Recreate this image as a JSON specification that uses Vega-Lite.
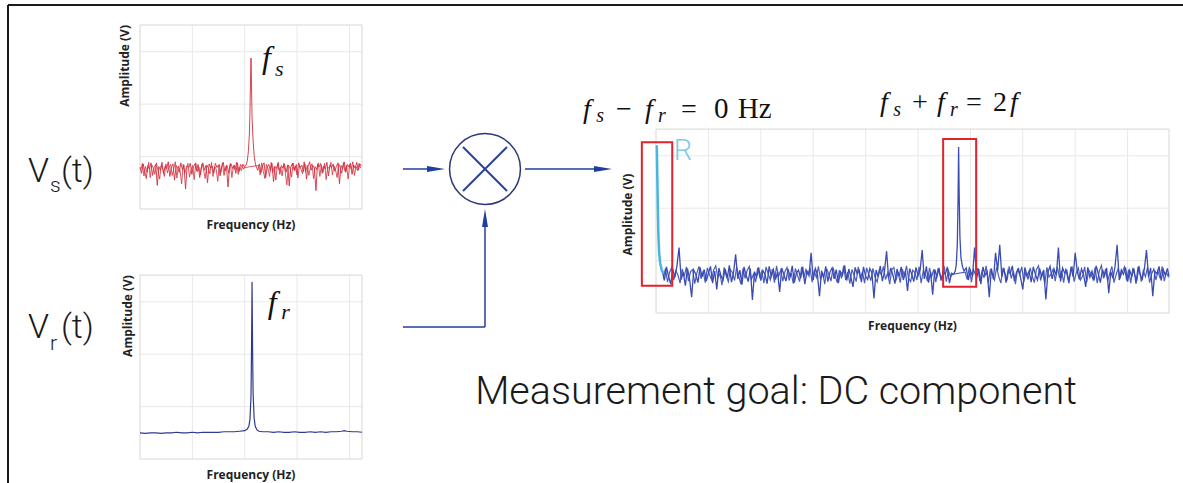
{
"$schema": "https://vega.github.io/schema/vega-lite/v6.json",
"padding": {"left": 7, "top": 4, "right": 0, "bottom": 0},
"background": "white",
"bounds": "flush",
"spacing": 0,
"config": {"view": {"stroke": null}},
"hconcat": [
  {
    "width": 132, "height": 478, "data": {"values": [{}]},
    "encoding": {
      "x": {"type": "quantitative", "scale": {"domain": [0, 13.2], "nice": false, "zero": false}, "axis": null},
      "y": {"type": "quantitative", "scale": {"domain": [0, 47.8], "nice": false, "zero": false, "reverse": true}, "axis": null}
    },
    "layer": [
      {"mark": {"type": "rule", "color": "#1b1b1b", "strokeWidth": 2},
       "encoding": {"x": {"datum": 0, "type": "quantitative"}, "x2": {"datum": 13.2}, "y": {"datum": 0, "type": "quantitative"}}},
      {"mark": {"type": "rule", "color": "#1b1b1b", "strokeWidth": 2},
       "encoding": {"x": {"datum": 0, "type": "quantitative"}, "y": {"datum": 0, "type": "quantitative"}, "y2": {"datum": 47.8}}},
      {"mark": {"type": "text", "text": "V", "font": "Roboto", "fontWeight": 300, "fontSize": 34, "align": "left", "baseline": "alphabetic", "color": "#1a1a1a"},
       "encoding": {"x": {"datum": 2.0, "type": "quantitative"}, "y": {"datum": 17.7, "type": "quantitative"}}},
      {"mark": {"type": "text", "text": "s", "font": "Roboto", "fontWeight": 300, "fontSize": 21, "align": "left", "baseline": "alphabetic", "color": "#1a1a1a"},
       "encoding": {"x": {"datum": 4.2, "type": "quantitative"}, "y": {"datum": 18.7, "type": "quantitative"}}},
      {"mark": {"type": "text", "text": "(t)", "font": "Roboto", "fontWeight": 300, "fontSize": 34, "align": "left", "baseline": "alphabetic", "color": "#1a1a1a"},
       "encoding": {"x": {"datum": 5.3, "type": "quantitative"}, "y": {"datum": 17.7, "type": "quantitative"}}},
      {"mark": {"type": "text", "text": "V", "font": "Roboto", "fontWeight": 300, "fontSize": 34, "align": "left", "baseline": "alphabetic", "color": "#1a1a1a"},
       "encoding": {"x": {"datum": 2.0, "type": "quantitative"}, "y": {"datum": 33.3, "type": "quantitative"}}},
      {"mark": {"type": "text", "text": "r", "font": "Roboto", "fontWeight": 300, "fontSize": 21, "align": "left", "baseline": "alphabetic", "color": "#1a1a1a"},
       "encoding": {"x": {"datum": 4.2, "type": "quantitative"}, "y": {"datum": 34.5, "type": "quantitative"}}},
      {"mark": {"type": "text", "text": "(t)", "font": "Roboto", "fontWeight": 300, "fontSize": 34, "align": "left", "baseline": "alphabetic", "color": "#1a1a1a"},
       "encoding": {"x": {"datum": 5.3, "type": "quantitative"}, "y": {"datum": 33.3, "type": "quantitative"}}}
    ]
  },
  {
    "width": 222, "height": 478,
    "resolve": {"scale": {"y": "independent"}},
    "layer": [
      {
        "encoding": {
          "x": {"type": "quantitative", "scale": {"domain": [0, 4.24], "nice": false, "zero": false}, "axis": null},
          "y": {"type": "quantitative", "scale": {"domain": [-5.229, 3.892], "nice": false, "zero": false}, "axis": null}
        },
        "layer": [
          {"data": {"values": [{"t": 1}, {"t": 2}, {"t": 3}, {"t": 4}]},
           "mark": {"type": "rule", "color": "#e8e8e8", "strokeWidth": 1},
           "encoding": {"x": {"field": "t", "type": "quantitative"}, "y": {"datum": 0, "type": "quantitative"}, "y2": {"datum": 3.51}}},
          {"data": {"values": [{"t": 1}, {"t": 2}, {"t": 3}]},
           "mark": {"type": "rule", "color": "#e8e8e8", "strokeWidth": 1},
           "encoding": {"y": {"field": "t", "type": "quantitative"}, "x": {"datum": 0, "type": "quantitative"}, "x2": {"datum": 4.24}}},
          {"data": {"values": [{}]},
           "mark": {"type": "rect", "filled": false, "stroke": "#d6d6d6", "strokeWidth": 1},
           "encoding": {"x": {"datum": 0, "type": "quantitative"}, "x2": {"datum": 4.24}, "y": {"datum": 0, "type": "quantitative"}, "y2": {"datum": 3.51}}},
          {"data": {"values": [
            {"f":0.00,"a":0.80},{"f":0.03,"a":0.68},{"f":0.06,"a":0.86},{"f":0.09,"a":0.72},{"f":0.12,"a":0.58},{"f":0.15,"a":0.83},{"f":0.18,"a":0.76},{"f":0.21,"a":0.88},{"f":0.24,"a":0.64},{"f":0.27,"a":0.79},
            {"f":0.30,"a":0.85},{"f":0.33,"a":0.45},{"f":0.36,"a":0.81},{"f":0.39,"a":0.74},{"f":0.42,"a":0.89},{"f":0.45,"a":0.67},{"f":0.48,"a":0.82},{"f":0.51,"a":0.77},{"f":0.54,"a":0.90},{"f":0.57,"a":0.62},
            {"f":0.60,"a":0.80},{"f":0.63,"a":0.86},{"f":0.66,"a":0.55},{"f":0.69,"a":0.83},{"f":0.72,"a":0.78},{"f":0.75,"a":0.70},{"f":0.78,"a":0.88},{"f":0.81,"a":0.75},{"f":0.84,"a":0.84},{"f":0.87,"a":0.38},
            {"f":0.90,"a":0.82},{"f":0.93,"a":0.79},{"f":0.96,"a":0.87},{"f":0.99,"a":0.66},{"f":1.02,"a":0.81},{"f":1.05,"a":0.86},{"f":1.08,"a":0.73},{"f":1.11,"a":0.85},{"f":1.14,"a":0.60},{"f":1.17,"a":0.80},
            {"f":1.20,"a":0.88},{"f":1.23,"a":0.74},{"f":1.26,"a":0.83},{"f":1.29,"a":0.50},{"f":1.32,"a":0.86},{"f":1.35,"a":0.78},{"f":1.38,"a":0.82},{"f":1.41,"a":0.69},{"f":1.44,"a":0.87},{"f":1.47,"a":0.79},
            {"f":1.50,"a":0.84},{"f":1.53,"a":0.63},{"f":1.56,"a":0.81},{"f":1.59,"a":0.89},{"f":1.62,"a":0.72},{"f":1.65,"a":0.83},{"f":1.68,"a":0.42},{"f":1.71,"a":0.80},{"f":1.74,"a":0.86},{"f":1.77,"a":0.77},
            {"f":1.80,"a":0.84},{"f":1.83,"a":0.68},{"f":1.86,"a":0.88},{"f":1.89,"a":0.71},{"f":1.92,"a":0.85},{"f":1.95,"a":0.80},{"f":1.98,"a":0.76},{"f":2.01,"a":0.83},
            {"f":2.03,"a":0.84},{"f":2.05,"a":0.92},{"f":2.07,"a":1.10},{"f":2.09,"a":1.45},{"f":2.10,"a":1.85},{"f":2.11,"a":2.40},{"f":2.12,"a":2.88},{"f":2.13,"a":2.35},{"f":2.14,"a":1.75},{"f":2.16,"a":1.30},{"f":2.18,"a":1.02},{"f":2.20,"a":0.88},{"f":2.22,"a":0.80},
            {"f":2.25,"a":0.74},{"f":2.28,"a":0.86},{"f":2.31,"a":0.69},{"f":2.34,"a":0.82},{"f":2.37,"a":0.88},{"f":2.40,"a":0.60},{"f":2.43,"a":0.79},{"f":2.46,"a":0.85},{"f":2.49,"a":0.73},{"f":2.52,"a":0.87},
            {"f":2.55,"a":0.52},{"f":2.58,"a":0.81},{"f":2.61,"a":0.77},{"f":2.64,"a":0.89},{"f":2.67,"a":0.66},{"f":2.70,"a":0.83},{"f":2.73,"a":0.78},{"f":2.76,"a":0.86},{"f":2.79,"a":0.70},{"f":2.82,"a":0.84},
            {"f":2.85,"a":0.44},{"f":2.88,"a":0.80},{"f":2.91,"a":0.87},{"f":2.94,"a":0.75},{"f":2.97,"a":0.82},{"f":3.00,"a":0.65},{"f":3.03,"a":0.88},{"f":3.06,"a":0.79},{"f":3.09,"a":0.84},{"f":3.12,"a":0.71},
            {"f":3.15,"a":0.86},{"f":3.18,"a":0.57},{"f":3.21,"a":0.81},{"f":3.24,"a":0.90},{"f":3.27,"a":0.74},{"f":3.30,"a":0.83},{"f":3.33,"a":0.78},{"f":3.36,"a":0.35},{"f":3.39,"a":0.85},{"f":3.42,"a":0.80},
            {"f":3.45,"a":0.87},{"f":3.48,"a":0.68},{"f":3.51,"a":0.82},{"f":3.54,"a":0.76},{"f":3.57,"a":0.89},{"f":3.60,"a":0.63},{"f":3.63,"a":0.84},{"f":3.66,"a":0.79},{"f":3.69,"a":0.86},{"f":3.72,"a":0.72},
            {"f":3.75,"a":0.81},{"f":3.78,"a":0.88},{"f":3.81,"a":0.48},{"f":3.84,"a":0.83},{"f":3.87,"a":0.77},{"f":3.90,"a":0.90},{"f":3.93,"a":0.70},{"f":3.96,"a":0.85},{"f":3.99,"a":0.80},{"f":4.02,"a":0.87},
            {"f":4.05,"a":0.66},{"f":4.08,"a":0.84},{"f":4.11,"a":0.78},{"f":4.14,"a":0.89},{"f":4.17,"a":0.74},{"f":4.20,"a":0.86},{"f":4.23,"a":0.82}
          ]},
           "mark": {"type": "line", "color": "#d0303e", "strokeWidth": 1, "opacity": 0.9},
           "encoding": {"x": {"field": "f", "type": "quantitative"}, "y": {"field": "a", "type": "quantitative"}}},
          {"data": {"values": [
            {"f":0.015,"a":0.74},{"f":0.045,"a":0.87},{"f":0.075,"a":0.63},{"f":0.105,"a":0.81},{"f":0.135,"a":0.70},{"f":0.165,"a":0.89},{"f":0.195,"a":0.60},{"f":0.225,"a":0.84},{"f":0.255,"a":0.78},{"f":0.285,"a":0.66},
            {"f":0.315,"a":0.88},{"f":0.345,"a":0.72},{"f":0.375,"a":0.57},{"f":0.405,"a":0.83},{"f":0.435,"a":0.76},{"f":0.465,"a":0.62},{"f":0.495,"a":0.86},{"f":0.525,"a":0.69},{"f":0.555,"a":0.80},{"f":0.585,"a":0.85},
            {"f":0.615,"a":0.64},{"f":0.645,"a":0.77},{"f":0.675,"a":0.90},{"f":0.705,"a":0.59},{"f":0.735,"a":0.82},{"f":0.765,"a":0.73},{"f":0.795,"a":0.48},{"f":0.825,"a":0.85},{"f":0.855,"a":0.68},{"f":0.885,"a":0.79},
            {"f":0.915,"a":0.87},{"f":0.945,"a":0.61},{"f":0.975,"a":0.75},{"f":1.005,"a":0.83},{"f":1.035,"a":0.56},{"f":1.065,"a":0.88},{"f":1.095,"a":0.71},{"f":1.125,"a":0.80},{"f":1.155,"a":0.65},{"f":1.185,"a":0.86},
            {"f":1.215,"a":0.74},{"f":1.245,"a":0.58},{"f":1.275,"a":0.84},{"f":1.305,"a":0.78},{"f":1.335,"a":0.67},{"f":1.365,"a":0.89},{"f":1.395,"a":0.62},{"f":1.425,"a":0.81},{"f":1.455,"a":0.76},{"f":1.485,"a":0.53},
            {"f":1.515,"a":0.85},{"f":1.545,"a":0.70},{"f":1.575,"a":0.88},{"f":1.605,"a":0.64},{"f":1.635,"a":0.79},{"f":1.665,"a":0.83},{"f":1.695,"a":0.68},{"f":1.725,"a":0.87},{"f":1.755,"a":0.60},{"f":1.785,"a":0.82},
            {"f":1.815,"a":0.75},{"f":1.845,"a":0.89},{"f":1.875,"a":0.66},{"f":1.905,"a":0.80},{"f":1.935,"a":0.73},{"f":1.965,"a":0.86},{"f":1.995,"a":0.79},
            {"f":2.265,"a":0.83},{"f":2.295,"a":0.65},{"f":2.325,"a":0.88},{"f":2.355,"a":0.72},{"f":2.385,"a":0.58},{"f":2.415,"a":0.85},{"f":2.445,"a":0.77},{"f":2.475,"a":0.62},{"f":2.505,"a":0.89},{"f":2.535,"a":0.70},
            {"f":2.565,"a":0.81},{"f":2.595,"a":0.55},{"f":2.625,"a":0.86},{"f":2.655,"a":0.74},{"f":2.685,"a":0.80},{"f":2.715,"a":0.63},{"f":2.745,"a":0.87},{"f":2.775,"a":0.69},{"f":2.805,"a":0.46},{"f":2.835,"a":0.84},
            {"f":2.865,"a":0.78},{"f":2.895,"a":0.61},{"f":2.925,"a":0.88},{"f":2.955,"a":0.73},{"f":2.985,"a":0.85},{"f":3.015,"a":0.59},{"f":3.045,"a":0.82},{"f":3.075,"a":0.76},{"f":3.105,"a":0.67},{"f":3.135,"a":0.90},
            {"f":3.165,"a":0.71},{"f":3.195,"a":0.83},{"f":3.225,"a":0.64},{"f":3.255,"a":0.79},{"f":3.285,"a":0.86},{"f":3.315,"a":0.58},{"f":3.345,"a":0.81},{"f":3.375,"a":0.75},{"f":3.405,"a":0.88},{"f":3.435,"a":0.62},
            {"f":3.465,"a":0.84},{"f":3.495,"a":0.70},{"f":3.525,"a":0.87},{"f":3.555,"a":0.56},{"f":3.585,"a":0.80},{"f":3.615,"a":0.77},{"f":3.645,"a":0.89},{"f":3.675,"a":0.65},{"f":3.705,"a":0.82},{"f":3.735,"a":0.74},
            {"f":3.765,"a":0.60},{"f":3.795,"a":0.86},{"f":3.825,"a":0.79},{"f":3.855,"a":0.68},{"f":3.885,"a":0.88},{"f":3.915,"a":0.72},{"f":3.945,"a":0.83},{"f":3.975,"a":0.57},{"f":4.005,"a":0.85},{"f":4.035,"a":0.76},
            {"f":4.065,"a":0.90},{"f":4.095,"a":0.64},{"f":4.125,"a":0.81},{"f":4.155,"a":0.73},{"f":4.185,"a":0.87},{"f":4.215,"a":0.78}
          ]},
           "mark": {"type": "line", "color": "#d0303e", "strokeWidth": 1, "opacity": 0.8},
           "encoding": {"x": {"field": "f", "type": "quantitative"}, "y": {"field": "a", "type": "quantitative"}}},
          {"data": {"values": [{}]},
           "mark": {"type": "text", "text": "f", "font": "Liberation Serif", "fontStyle": "italic", "fontSize": 32, "align": "left", "baseline": "alphabetic", "color": "#111111"},
           "encoding": {"x": {"datum": 2.33, "type": "quantitative"}, "y": {"datum": 2.69, "type": "quantitative"}}},
          {"data": {"values": [{}]},
           "mark": {"type": "text", "text": "s", "font": "Liberation Serif", "fontStyle": "italic", "fontSize": 22, "align": "left", "baseline": "alphabetic", "color": "#111111"},
           "encoding": {"x": {"datum": 2.58, "type": "quantitative"}, "y": {"datum": 2.54, "type": "quantitative"}}},
          {"data": {"values": [{}]},
           "mark": {"type": "text", "text": "Amplitude (V)", "font": "Open Sans", "fontWeight": "bold", "fontSize": 12, "angle": 270, "align": "right", "baseline": "middle", "color": "#222222"},
           "encoding": {"x": {"datum": -0.286, "type": "quantitative"}, "y": {"datum": 3.51, "type": "quantitative"}}},
          {"data": {"values": [{}]},
           "mark": {"type": "text", "text": "Frequency (Hz)", "font": "Open Sans", "fontWeight": "bold", "fontSize": 12, "align": "center", "baseline": "middle", "color": "#222222"},
           "encoding": {"x": {"datum": 2.12, "type": "quantitative"}, "y": {"datum": -0.305, "type": "quantitative"}}},
          {"data": {"values": [{}]},
           "mark": {"type": "rule", "color": "#1b1b1b", "strokeWidth": 2},
           "encoding": {"x": {"datum": 0, "type": "quantitative"}, "x2": {"datum": 4.24}, "y": {"datum": 3.892, "type": "quantitative"}}}
        ]
      },
      {
        "encoding": {
          "x": {"type": "quantitative", "scale": {"domain": [0, 4.24], "nice": false, "zero": false}, "axis": null},
          "y": {"type": "quantitative", "scale": {"domain": [-0.458, 8.664], "nice": false, "zero": false}, "axis": null}
        },
        "layer": [
          {"data": {"values": [{"t": 1}, {"t": 2}, {"t": 3}, {"t": 4}]},
           "mark": {"type": "rule", "color": "#e8e8e8", "strokeWidth": 1},
           "encoding": {"x": {"field": "t", "type": "quantitative"}, "y": {"datum": 0, "type": "quantitative"}, "y2": {"datum": 3.51}}},
          {"data": {"values": [{"t": 1}, {"t": 2}, {"t": 3}]},
           "mark": {"type": "rule", "color": "#e8e8e8", "strokeWidth": 1},
           "encoding": {"y": {"field": "t", "type": "quantitative"}, "x": {"datum": 0, "type": "quantitative"}, "x2": {"datum": 4.24}}},
          {"data": {"values": [{}]},
           "mark": {"type": "rect", "filled": false, "stroke": "#d6d6d6", "strokeWidth": 1},
           "encoding": {"x": {"datum": 0, "type": "quantitative"}, "x2": {"datum": 4.24}, "y": {"datum": 0, "type": "quantitative"}, "y2": {"datum": 3.51}}},
          {"data": {"values": [
            {"f":0.00,"a":0.50},{"f":0.10,"a":0.49},{"f":0.20,"a":0.50},{"f":0.30,"a":0.50},{"f":0.40,"a":0.49},{"f":0.50,"a":0.50},{"f":0.60,"a":0.50},{"f":0.70,"a":0.51},{"f":0.80,"a":0.50},{"f":0.90,"a":0.50},
            {"f":1.00,"a":0.51},{"f":1.10,"a":0.50},{"f":1.20,"a":0.51},{"f":1.30,"a":0.51},{"f":1.40,"a":0.51},{"f":1.50,"a":0.51},{"f":1.60,"a":0.52},{"f":1.70,"a":0.52},{"f":1.80,"a":0.52},{"f":1.90,"a":0.53},
            {"f":2.00,"a":0.54},{"f":2.05,"a":0.57},{"f":2.08,"a":0.63},{"f":2.10,"a":0.75},{"f":2.12,"a":1.20},{"f":2.13,"a":2.10},{"f":2.14,"a":3.38},{"f":2.15,"a":2.10},{"f":2.16,"a":1.25},{"f":2.18,"a":0.78},
            {"f":2.20,"a":0.63},{"f":2.23,"a":0.56},{"f":2.27,"a":0.53},{"f":2.35,"a":0.52},{"f":2.45,"a":0.52},{"f":2.55,"a":0.51},{"f":2.65,"a":0.52},{"f":2.75,"a":0.51},{"f":2.85,"a":0.51},{"f":2.95,"a":0.52},
            {"f":3.05,"a":0.51},{"f":3.15,"a":0.51},{"f":3.25,"a":0.52},{"f":3.35,"a":0.51},{"f":3.45,"a":0.52},{"f":3.55,"a":0.51},{"f":3.65,"a":0.52},{"f":3.75,"a":0.52},{"f":3.85,"a":0.53},{"f":3.90,"a":0.54},
            {"f":3.95,"a":0.53},{"f":4.05,"a":0.52},{"f":4.15,"a":0.52},{"f":4.24,"a":0.51}
          ]},
           "mark": {"type": "line", "color": "#2f3b8f", "strokeWidth": 1.2},
           "encoding": {"x": {"field": "f", "type": "quantitative"}, "y": {"field": "a", "type": "quantitative"}}},
          {"data": {"values": [{}]},
           "mark": {"type": "text", "text": "f", "font": "Liberation Serif", "fontStyle": "italic", "fontSize": 32, "align": "left", "baseline": "alphabetic", "color": "#111111"},
           "encoding": {"x": {"datum": 2.44, "type": "quantitative"}, "y": {"datum": 2.79, "type": "quantitative"}}},
          {"data": {"values": [{}]},
           "mark": {"type": "text", "text": "r", "font": "Liberation Serif", "fontStyle": "italic", "fontSize": 22, "align": "left", "baseline": "alphabetic", "color": "#111111"},
           "encoding": {"x": {"datum": 2.70, "type": "quantitative"}, "y": {"datum": 2.68, "type": "quantitative"}}},
          {"data": {"values": [{}]},
           "mark": {"type": "text", "text": "Amplitude (V)", "font": "Open Sans", "fontWeight": "bold", "fontSize": 12, "angle": 270, "align": "right", "baseline": "middle", "color": "#222222"},
           "encoding": {"x": {"datum": -0.229, "type": "quantitative"}, "y": {"datum": 3.51, "type": "quantitative"}}},
          {"data": {"values": [{}]},
           "mark": {"type": "text", "text": "Frequency (Hz)", "font": "Open Sans", "fontWeight": "bold", "fontSize": 12, "align": "center", "baseline": "middle", "color": "#222222"},
           "encoding": {"x": {"datum": 2.12, "type": "quantitative"}, "y": {"datum": -0.305, "type": "quantitative"}}}
        ]
      }
    ]
  },
  {
    "width": 294, "height": 478, "data": {"values": [{}]},
    "encoding": {
      "x": {"type": "quantitative", "scale": {"domain": [0, 29.4], "nice": false, "zero": false}, "axis": null},
      "y": {"type": "quantitative", "scale": {"domain": [0, 47.8], "nice": false, "zero": false, "reverse": true}, "axis": null}
    },
    "layer": [
      {"mark": {"type": "rule", "color": "#1b1b1b", "strokeWidth": 2},
       "encoding": {"x": {"datum": 0, "type": "quantitative"}, "x2": {"datum": 29.4}, "y": {"datum": 0, "type": "quantitative"}}},
      {"mark": {"type": "rule", "color": "#203f9a", "strokeWidth": 1.5},
       "encoding": {"x": {"datum": 4.1, "type": "quantitative"}, "x2": {"datum": 7.0}, "y": {"datum": 16.4, "type": "quantitative"}}},
      {"mark": {"type": "point", "shape": "M-1,-0.33L1,0L-1,0.33Z", "size": 324, "filled": true, "color": "#203f9a", "opacity": 1, "strokeWidth": 0},
       "encoding": {"x": {"datum": 7.4, "type": "quantitative"}, "y": {"datum": 16.4, "type": "quantitative"}}},
      {"mark": {"type": "point", "shape": "circle", "size": 5027, "filled": false, "stroke": "#2c3873", "strokeWidth": 1.5, "opacity": 1},
       "encoding": {"x": {"datum": 12.3, "type": "quantitative"}, "y": {"datum": 16.4, "type": "quantitative"}}},
      {"mark": {"type": "rule", "color": "#2a3f96", "strokeWidth": 2},
       "encoding": {"x": {"datum": 10.1, "type": "quantitative"}, "x2": {"datum": 14.5}, "y": {"datum": 14.2, "type": "quantitative"}, "y2": {"datum": 18.6}}},
      {"mark": {"type": "rule", "color": "#2a3f96", "strokeWidth": 2},
       "encoding": {"x": {"datum": 10.1, "type": "quantitative"}, "x2": {"datum": 14.5}, "y": {"datum": 18.6, "type": "quantitative"}, "y2": {"datum": 14.2}}},
      {"mark": {"type": "rule", "color": "#203f9a", "strokeWidth": 1.5},
       "encoding": {"x": {"datum": 16.3, "type": "quantitative"}, "x2": {"datum": 24.0}, "y": {"datum": 16.4, "type": "quantitative"}}},
      {"mark": {"type": "point", "shape": "M-1,-0.33L1,0L-1,0.33Z", "size": 324, "filled": true, "color": "#203f9a", "opacity": 1, "strokeWidth": 0},
       "encoding": {"x": {"datum": 24.1, "type": "quantitative"}, "y": {"datum": 16.4, "type": "quantitative"}}},
      {"mark": {"type": "rule", "color": "#203f9a", "strokeWidth": 1.5},
       "encoding": {"x": {"datum": 4.1, "type": "quantitative"}, "x2": {"datum": 12.3}, "y": {"datum": 32.2, "type": "quantitative"}}},
      {"mark": {"type": "rule", "color": "#203f9a", "strokeWidth": 1.5},
       "encoding": {"x": {"datum": 12.3, "type": "quantitative"}, "y": {"datum": 32.2, "type": "quantitative"}, "y2": {"datum": 21.8}}},
      {"mark": {"type": "point", "shape": "M-0.33,1L0,-1L0.33,1Z", "size": 324, "filled": true, "color": "#203f9a", "opacity": 1, "strokeWidth": 0},
       "encoding": {"x": {"datum": 12.3, "type": "quantitative"}, "y": {"datum": 21.3, "type": "quantitative"}}},
      {"mark": {"type": "text", "text": "Measurement goal: DC component", "font": "Roboto", "fontWeight": 300, "fontSize": 39.5, "align": "center", "baseline": "alphabetic", "color": "#1a1a1a"},
       "encoding": {"x": {"datum": 41.4, "type": "quantitative"}, "y": {"datum": 39.9, "type": "quantitative"}}}
    ]
  },
  {
    "width": 513, "height": 478,
    "encoding": {
      "x": {"type": "quantitative", "scale": {"domain": [0, 9.79], "nice": false, "zero": false}, "axis": null},
      "y": {"type": "quantitative", "scale": {"domain": [-3.244, 5.878], "nice": false, "zero": false}, "axis": null}
    },
    "layer": [
      {"data": {"values": [{"t": 1}, {"t": 2}, {"t": 3}, {"t": 4}, {"t": 5}, {"t": 6}, {"t": 7}, {"t": 8}, {"t": 9}]},
       "mark": {"type": "rule", "color": "#e8e8e8", "strokeWidth": 1},
       "encoding": {"x": {"field": "t", "type": "quantitative"}, "y": {"datum": 0, "type": "quantitative"}, "y2": {"datum": 3.51}}},
      {"data": {"values": [{"t": 1}, {"t": 2}, {"t": 3}]},
       "mark": {"type": "rule", "color": "#e8e8e8", "strokeWidth": 1},
       "encoding": {"y": {"field": "t", "type": "quantitative"}, "x": {"datum": 0, "type": "quantitative"}, "x2": {"datum": 9.79}}},
      {"data": {"values": [{}]},
       "mark": {"type": "rect", "filled": false, "stroke": "#d6d6d6", "strokeWidth": 1},
       "encoding": {"x": {"datum": 0, "type": "quantitative"}, "x2": {"datum": 9.79}, "y": {"datum": 0, "type": "quantitative"}, "y2": {"datum": 3.51}}},
      {"data": {"values": [
        {"f":0.12,"a":0.80},{"f":0.16,"a":0.62},{"f":0.20,"a":0.88},{"f":0.24,"a":0.70},{"f":0.28,"a":0.55},{"f":0.32,"a":0.84},{"f":0.36,"a":0.68},{"f":0.40,"a":0.90},{"f":0.44,"a":1.25},{"f":0.48,"a":0.64},
        {"f":0.52,"a":0.78},{"f":0.56,"a":0.52},{"f":0.60,"a":0.85},{"f":0.64,"a":0.66},{"f":0.68,"a":0.30},{"f":0.72,"a":0.82},{"f":0.76,"a":0.74},{"f":0.80,"a":0.58},{"f":0.84,"a":0.87},{"f":0.88,"a":0.69},
        {"f":0.92,"a":0.83},{"f":0.96,"a":0.61},{"f":1.00,"a":0.76},{"f":1.04,"a":0.89},{"f":1.08,"a":0.57},{"f":1.12,"a":0.80},{"f":1.16,"a":0.45},{"f":1.20,"a":0.86},{"f":1.24,"a":0.71},{"f":1.28,"a":0.63},
        {"f":1.32,"a":0.84},{"f":1.36,"a":0.67},{"f":1.40,"a":0.91},{"f":1.44,"a":0.59},{"f":1.48,"a":0.77},{"f":1.52,"a":1.12},{"f":1.56,"a":0.65},{"f":1.60,"a":0.82},{"f":1.64,"a":0.54},{"f":1.68,"a":0.88},
        {"f":1.72,"a":0.72},{"f":1.76,"a":0.60},{"f":1.80,"a":0.85},{"f":1.84,"a":0.25},{"f":1.88,"a":0.79},{"f":1.92,"a":0.68},{"f":1.96,"a":0.87},{"f":2.00,"a":0.62},{"f":2.04,"a":0.81},{"f":2.08,"a":0.74},
        {"f":2.12,"a":0.56},{"f":2.16,"a":0.89},{"f":2.20,"a":0.70},{"f":2.24,"a":0.83},{"f":2.28,"a":0.64},{"f":2.32,"a":0.78},{"f":2.36,"a":0.40},{"f":2.40,"a":0.86},{"f":2.44,"a":0.73},{"f":2.48,"a":0.61},
        {"f":2.52,"a":0.84},{"f":2.56,"a":0.69},{"f":2.60,"a":0.90},{"f":2.64,"a":0.58},{"f":2.68,"a":0.76},{"f":2.72,"a":0.82},{"f":2.76,"a":0.66},{"f":2.80,"a":0.88},{"f":2.84,"a":0.55},{"f":2.88,"a":0.80},
        {"f":2.92,"a":0.71},{"f":2.96,"a":1.15},{"f":3.00,"a":0.63},{"f":3.04,"a":0.85},{"f":3.08,"a":0.74},{"f":3.12,"a":0.32},{"f":3.16,"a":0.81},{"f":3.20,"a":0.67},{"f":3.24,"a":0.89},{"f":3.28,"a":0.60},
        {"f":3.32,"a":0.78},{"f":3.36,"a":0.86},{"f":3.40,"a":0.65},{"f":3.44,"a":0.83},{"f":3.48,"a":0.57},{"f":3.52,"a":0.79},{"f":3.56,"a":0.72},{"f":3.60,"a":0.91},{"f":3.64,"a":0.62},{"f":3.68,"a":0.84},
        {"f":3.72,"a":0.68},{"f":3.76,"a":0.50},{"f":3.80,"a":0.87},{"f":3.84,"a":0.75},{"f":3.88,"a":0.81},{"f":3.92,"a":0.59},{"f":3.96,"a":0.88},{"f":4.00,"a":0.70},{"f":4.04,"a":0.64},{"f":4.08,"a":0.85},
        {"f":4.12,"a":0.77},{"f":4.16,"a":0.28},{"f":4.20,"a":0.82},{"f":4.24,"a":0.69},{"f":4.28,"a":0.90},{"f":4.32,"a":0.61},{"f":4.36,"a":0.79},{"f":4.40,"a":1.18},{"f":4.44,"a":0.66},{"f":4.48,"a":0.86},
        {"f":4.52,"a":0.73},{"f":4.56,"a":0.56},{"f":4.60,"a":0.84},{"f":4.64,"a":0.70},{"f":4.68,"a":0.88},{"f":4.72,"a":0.63},{"f":4.76,"a":0.80},{"f":4.80,"a":0.42},{"f":4.84,"a":0.85},{"f":4.88,"a":0.74},
        {"f":4.92,"a":0.60},{"f":4.96,"a":0.87},{"f":5.00,"a":0.71},{"f":5.04,"a":0.82},{"f":5.08,"a":1.20},{"f":5.12,"a":0.65},{"f":5.16,"a":0.89},{"f":5.20,"a":0.58},{"f":5.24,"a":0.78},{"f":5.28,"a":0.35},
        {"f":5.32,"a":0.83},{"f":5.36,"a":0.69},{"f":5.40,"a":0.86},{"f":5.44,"a":0.62},{"f":5.48,"a":0.80},{"f":5.52,"a":0.74},{"f":5.56,"a":0.88},{"f":5.60,"a":0.57},{"f":5.64,"a":0.76},
        {"f":5.68,"a":0.74},{"f":5.71,"a":0.80},{"f":5.73,"a":0.92},{"f":5.75,"a":1.30},{"f":5.765,"a":2.20},{"f":5.775,"a":3.17},{"f":5.785,"a":2.30},{"f":5.80,"a":1.45},{"f":5.82,"a":1.05},{"f":5.85,"a":0.88},{"f":5.88,"a":0.80},
        {"f":5.92,"a":0.86},{"f":5.96,"a":0.63},{"f":6.00,"a":0.81},{"f":6.04,"a":0.70},{"f":6.08,"a":1.25},
        {"f":6.12,"a":0.67},{"f":6.16,"a":0.84},{"f":6.20,"a":0.55},{"f":6.24,"a":0.88},{"f":6.28,"a":0.72},{"f":6.32,"a":0.79},{"f":6.36,"a":0.30},{"f":6.40,"a":0.85},{"f":6.44,"a":0.64},{"f":6.48,"a":1.15},
        {"f":6.52,"a":0.81},{"f":6.56,"a":1.30},{"f":6.60,"a":0.69},{"f":6.64,"a":0.86},{"f":6.68,"a":0.58},{"f":6.72,"a":0.82},{"f":6.76,"a":0.75},{"f":6.80,"a":0.90},{"f":6.84,"a":0.61},{"f":6.88,"a":0.78},
        {"f":6.92,"a":0.84},{"f":6.96,"a":0.66},{"f":7.00,"a":0.45},{"f":7.04,"a":0.87},{"f":7.08,"a":0.71},{"f":7.12,"a":0.80},{"f":7.16,"a":0.59},{"f":7.20,"a":0.88},{"f":7.24,"a":0.74},{"f":7.28,"a":0.63},
        {"f":7.32,"a":0.85},{"f":7.36,"a":0.70},{"f":7.40,"a":0.82},{"f":7.44,"a":0.26},{"f":7.48,"a":0.78},{"f":7.52,"a":0.89},{"f":7.56,"a":0.65},{"f":7.60,"a":0.83},{"f":7.64,"a":0.72},{"f":7.68,"a":1.25},
        {"f":7.72,"a":0.60},{"f":7.76,"a":0.86},{"f":7.80,"a":0.76},{"f":7.84,"a":0.81},{"f":7.88,"a":0.57},{"f":7.92,"a":0.88},{"f":7.96,"a":0.69},{"f":8.00,"a":1.15},{"f":8.04,"a":0.79},{"f":8.08,"a":0.64},
        {"f":8.12,"a":0.84},{"f":8.16,"a":0.73},{"f":8.20,"a":0.50},{"f":8.24,"a":0.87},{"f":8.28,"a":0.68},{"f":8.32,"a":0.80},{"f":8.36,"a":0.62},{"f":8.40,"a":0.90},{"f":8.44,"a":0.75},{"f":8.48,"a":0.58},
        {"f":8.52,"a":0.83},{"f":8.56,"a":0.71},{"f":8.60,"a":0.86},{"f":8.64,"a":0.38},{"f":8.68,"a":0.79},{"f":8.72,"a":0.66},{"f":8.76,"a":0.89},{"f":8.80,"a":1.30},{"f":8.84,"a":0.63},{"f":8.88,"a":0.82},
        {"f":8.92,"a":0.74},{"f":8.96,"a":0.87},{"f":9.00,"a":0.60},{"f":9.04,"a":0.81},{"f":9.08,"a":0.70},{"f":9.12,"a":0.85},{"f":9.16,"a":0.56},{"f":9.20,"a":0.88},{"f":9.24,"a":0.73},{"f":9.28,"a":0.65},
        {"f":9.32,"a":0.84},{"f":9.36,"a":1.20},{"f":9.40,"a":0.69},{"f":9.44,"a":0.86},{"f":9.48,"a":0.32},{"f":9.52,"a":0.80},{"f":9.56,"a":0.75},{"f":9.60,"a":0.89},{"f":9.64,"a":0.62},{"f":9.68,"a":0.83},
        {"f":9.72,"a":0.72},{"f":9.76,"a":0.85},{"f":9.79,"a":0.70}
      ]},
       "mark": {"type": "line", "color": "#3a4cb2", "strokeWidth": 1.3},
       "encoding": {"x": {"field": "f", "type": "quantitative"}, "y": {"field": "a", "type": "quantitative"}}},
      {"data": {"values": [
        {"f":0.14,"a":0.66},{"f":0.18,"a":0.85},{"f":0.22,"a":0.59},{"f":0.26,"a":0.78},{"f":0.30,"a":0.87},{"f":0.34,"a":0.63},{"f":0.38,"a":0.81},{"f":0.42,"a":0.72},{"f":0.46,"a":0.57},{"f":0.50,"a":0.84},
        {"f":0.54,"a":0.70},{"f":0.58,"a":0.88},{"f":0.62,"a":0.61},{"f":0.66,"a":0.79},{"f":0.70,"a":0.83},{"f":0.74,"a":0.56},{"f":0.78,"a":0.76},{"f":0.82,"a":0.89},{"f":0.86,"a":0.65},{"f":0.90,"a":0.80},
        {"f":0.94,"a":0.58},{"f":0.98,"a":0.86},{"f":1.02,"a":0.73},{"f":1.06,"a":0.64},{"f":1.10,"a":0.82},{"f":1.14,"a":0.90},{"f":1.18,"a":0.67},{"f":1.22,"a":0.75},{"f":1.26,"a":0.53},{"f":1.30,"a":0.87},
        {"f":1.34,"a":0.71},{"f":1.38,"a":0.60},{"f":1.42,"a":0.83},{"f":1.46,"a":0.77},{"f":1.50,"a":0.62},{"f":1.54,"a":0.88},{"f":1.58,"a":0.70},{"f":1.62,"a":0.55},{"f":1.66,"a":0.85},{"f":1.70,"a":0.66},
        {"f":1.74,"a":0.81},{"f":1.78,"a":0.89},{"f":1.82,"a":0.64},{"f":1.86,"a":0.74},{"f":1.90,"a":0.59},{"f":1.94,"a":0.86},{"f":1.98,"a":0.69},{"f":2.02,"a":0.80},{"f":2.06,"a":0.57},{"f":2.10,"a":0.88},
        {"f":2.14,"a":0.75},{"f":2.18,"a":0.63},{"f":2.22,"a":0.84},{"f":2.26,"a":0.58},{"f":2.30,"a":0.90},{"f":2.34,"a":0.70},{"f":2.38,"a":0.82},{"f":2.42,"a":0.61},{"f":2.46,"a":0.79},{"f":2.50,"a":0.87},
        {"f":2.54,"a":0.62},{"f":2.58,"a":0.76},{"f":2.62,"a":0.56},{"f":2.66,"a":0.85},{"f":2.70,"a":0.72},{"f":2.74,"a":0.60},{"f":2.78,"a":0.88},{"f":2.82,"a":0.67},{"f":2.86,"a":0.83},{"f":2.90,"a":0.74},
        {"f":2.94,"a":0.86},{"f":2.98,"a":0.59},{"f":3.02,"a":0.80},{"f":3.06,"a":0.68},{"f":3.10,"a":0.89},{"f":3.14,"a":0.64},{"f":3.18,"a":0.77},{"f":3.22,"a":0.55},{"f":3.26,"a":0.84},{"f":3.30,"a":0.73},
        {"f":3.34,"a":0.61},{"f":3.38,"a":0.87},{"f":3.42,"a":0.70},{"f":3.46,"a":0.58},{"f":3.50,"a":0.82},{"f":3.54,"a":0.66},{"f":3.58,"a":0.90},{"f":3.62,"a":0.63},{"f":3.66,"a":0.78},{"f":3.70,"a":0.56},
        {"f":3.74,"a":0.83},{"f":3.78,"a":0.72},{"f":3.82,"a":0.60},{"f":3.86,"a":0.88},{"f":3.90,"a":0.65},{"f":3.94,"a":0.79},{"f":3.98,"a":0.57},{"f":4.02,"a":0.86},{"f":4.06,"a":0.74},{"f":4.10,"a":0.62},
        {"f":4.14,"a":0.85},{"f":4.18,"a":0.68},{"f":4.22,"a":0.59},{"f":4.26,"a":0.81},{"f":4.30,"a":0.73},{"f":4.34,"a":0.89},{"f":4.38,"a":0.64},{"f":4.42,"a":0.76},{"f":4.46,"a":0.55},{"f":4.50,"a":0.83},
        {"f":4.54,"a":0.87},{"f":4.58,"a":0.62},{"f":4.62,"a":0.78},{"f":4.66,"a":0.58},{"f":4.70,"a":0.84},{"f":4.74,"a":0.71},{"f":4.78,"a":0.90},{"f":4.82,"a":0.66},{"f":4.86,"a":0.60},{"f":4.90,"a":0.82},
        {"f":4.94,"a":0.77},{"f":4.98,"a":0.63},{"f":5.02,"a":0.88},{"f":5.06,"a":0.57},{"f":5.10,"a":0.80},{"f":5.14,"a":0.74},{"f":5.18,"a":0.61},{"f":5.22,"a":0.86},{"f":5.26,"a":0.69},{"f":5.30,"a":0.83},
        {"f":5.34,"a":0.59},{"f":5.38,"a":0.85},{"f":5.42,"a":0.72},{"f":5.46,"a":0.66},{"f":5.50,"a":0.89},{"f":5.54,"a":0.60},{"f":5.58,"a":0.81},{"f":5.62,"a":0.70},{"f":5.66,"a":0.74},
        {"f":5.90,"a":0.78},{"f":5.94,"a":0.64},{"f":5.98,"a":0.88},{"f":6.02,"a":0.59},{"f":6.06,"a":0.83},{"f":6.10,"a":0.72},
        {"f":6.14,"a":0.86},{"f":6.18,"a":0.61},{"f":6.22,"a":0.79},{"f":6.26,"a":0.67},{"f":6.30,"a":0.90},{"f":6.34,"a":0.58},{"f":6.38,"a":0.82},{"f":6.42,"a":0.73},{"f":6.46,"a":0.63},{"f":6.50,"a":0.87},
        {"f":6.54,"a":0.70},{"f":6.58,"a":0.57},{"f":6.62,"a":0.84},{"f":6.66,"a":0.76},{"f":6.70,"a":0.62},{"f":6.74,"a":0.89},{"f":6.78,"a":0.66},{"f":6.82,"a":0.80},{"f":6.86,"a":0.55},{"f":6.90,"a":0.85},
        {"f":6.94,"a":0.73},{"f":6.98,"a":0.88},{"f":7.02,"a":0.60},{"f":7.06,"a":0.78},{"f":7.10,"a":0.64},{"f":7.14,"a":0.86},{"f":7.18,"a":0.71},{"f":7.22,"a":0.58},{"f":7.26,"a":0.83},{"f":7.30,"a":0.90},
        {"f":7.34,"a":0.62},{"f":7.38,"a":0.79},{"f":7.42,"a":0.56},{"f":7.46,"a":0.87},{"f":7.50,"a":0.69},{"f":7.54,"a":0.74},{"f":7.58,"a":0.84},{"f":7.62,"a":0.61},{"f":7.66,"a":0.88},{"f":7.70,"a":0.67},
        {"f":7.74,"a":0.81},{"f":7.78,"a":0.58},{"f":7.82,"a":0.85},{"f":7.86,"a":0.65},{"f":7.90,"a":0.72},{"f":7.94,"a":0.89},{"f":7.98,"a":0.60},{"f":8.02,"a":0.77},{"f":8.06,"a":0.86},{"f":8.10,"a":0.63},
        {"f":8.14,"a":0.70},{"f":8.18,"a":0.88},{"f":8.22,"a":0.59},{"f":8.26,"a":0.82},{"f":8.30,"a":0.75},{"f":8.34,"a":0.64},{"f":8.38,"a":0.87},{"f":8.42,"a":0.57},{"f":8.46,"a":0.80},{"f":8.50,"a":0.91},
        {"f":8.54,"a":0.66},{"f":8.58,"a":0.84},{"f":8.62,"a":0.61},{"f":8.66,"a":0.76},{"f":8.70,"a":0.89},{"f":8.74,"a":0.58},{"f":8.78,"a":0.73},{"f":8.82,"a":0.85},{"f":8.86,"a":0.68},{"f":8.90,"a":0.79},
        {"f":8.94,"a":0.88},{"f":8.98,"a":0.62},{"f":9.02,"a":0.83},{"f":9.06,"a":0.57},{"f":9.10,"a":0.86},{"f":9.14,"a":0.71},{"f":9.18,"a":0.64},{"f":9.22,"a":0.90},{"f":9.26,"a":0.60},{"f":9.30,"a":0.81},
        {"f":9.34,"a":0.69},{"f":9.38,"a":0.87},{"f":9.42,"a":0.58},{"f":9.46,"a":0.75},{"f":9.50,"a":0.84},{"f":9.54,"a":0.63},{"f":9.58,"a":0.80},{"f":9.62,"a":0.66},{"f":9.66,"a":0.89},{"f":9.70,"a":0.61},
        {"f":9.74,"a":0.78},{"f":9.78,"a":0.68}
      ]},
       "mark": {"type": "line", "color": "#3a4cb2", "strokeWidth": 1.2, "opacity": 0.9},
       "encoding": {"x": {"field": "f", "type": "quantitative"}, "y": {"field": "a", "type": "quantitative"}}},
      {"data": {"values": [
        {"f":0.015,"a":3.20},{"f":0.025,"a":2.60},{"f":0.035,"a":2.00},{"f":0.045,"a":1.50},{"f":0.06,"a":1.15},{"f":0.08,"a":0.95},{"f":0.11,"a":0.82},{"f":0.14,"a":0.76}
      ]},
       "mark": {"type": "line", "color": "#46b5df", "strokeWidth": 2.5},
       "encoding": {"x": {"field": "f", "type": "quantitative"}, "y": {"field": "a", "type": "quantitative"}}},
      {"data": {"values": [{}]},
       "mark": {"type": "rect", "filled": false, "stroke": "#e3222b", "strokeWidth": 2},
       "encoding": {"x": {"datum": -0.27, "type": "quantitative"}, "x2": {"datum": 0.31}, "y": {"datum": 3.26, "type": "quantitative"}, "y2": {"datum": 0.52}}},
      {"data": {"values": [{}]},
       "mark": {"type": "rect", "filled": false, "stroke": "#e3222b", "strokeWidth": 2},
       "encoding": {"x": {"datum": 5.48, "type": "quantitative"}, "x2": {"datum": 6.11}, "y": {"datum": 3.32, "type": "quantitative"}, "y2": {"datum": 0.50}}},
      {"data": {"values": [{}]},
       "mark": {"type": "text", "text": "R", "font": "Roboto", "fontWeight": 300, "fontSize": 29, "align": "left", "baseline": "alphabetic", "color": "#7dcce6"},
       "encoding": {"x": {"datum": 0.34, "type": "quantitative"}, "y": {"datum": 2.92, "type": "quantitative"}}},
      {"data": {"values": [{}]},
       "mark": {"type": "text", "text": "Amplitude (V)", "font": "Open Sans", "fontWeight": "bold", "fontSize": 12, "angle": 270, "align": "center", "baseline": "middle", "color": "#222222"},
       "encoding": {"x": {"datum": -0.534, "type": "quantitative"}, "y": {"datum": 1.88, "type": "quantitative"}}},
      {"data": {"values": [{}]},
       "mark": {"type": "text", "text": "Frequency (Hz)", "font": "Open Sans", "fontWeight": "bold", "fontSize": 12, "align": "center", "baseline": "middle", "color": "#222222"},
       "encoding": {"x": {"datum": 4.895, "type": "quantitative"}, "y": {"datum": -0.25, "type": "quantitative"}}},
      {"data": {"values": [{}]},
       "mark": {"type": "rule", "color": "#1b1b1b", "strokeWidth": 2},
       "encoding": {"x": {"datum": 0, "type": "quantitative"}, "x2": {"datum": 10.2}, "y": {"datum": 5.878, "type": "quantitative"}}},
      {"data": {"values": [{}]}, "mark": {"type": "text", "text": "f", "font": "Liberation Serif", "fontStyle": "italic", "fontSize": 28, "align": "left", "baseline": "alphabetic", "color": "#111111"},
       "encoding": {"x": {"datum": -1.393, "type": "quantitative"}, "y": {"datum": 3.72, "type": "quantitative"}}},
      {"data": {"values": [{}]}, "mark": {"type": "text", "text": "s", "font": "Liberation Serif", "fontStyle": "italic", "fontSize": 20, "align": "left", "baseline": "alphabetic", "color": "#111111"},
       "encoding": {"x": {"datum": -1.14, "type": "quantitative"}, "y": {"datum": 3.645, "type": "quantitative"}}},
      {"data": {"values": [{}]}, "mark": {"type": "text", "text": "−", "font": "Liberation Serif", "fontSize": 28, "align": "left", "baseline": "alphabetic", "color": "#111111"},
       "encoding": {"x": {"datum": -0.763, "type": "quantitative"}, "y": {"datum": 3.72, "type": "quantitative"}}},
      {"data": {"values": [{}]}, "mark": {"type": "text", "text": "f", "font": "Liberation Serif", "fontStyle": "italic", "fontSize": 28, "align": "left", "baseline": "alphabetic", "color": "#111111"},
       "encoding": {"x": {"datum": -0.21, "type": "quantitative"}, "y": {"datum": 3.72, "type": "quantitative"}}},
      {"data": {"values": [{}]}, "mark": {"type": "text", "text": "r", "font": "Liberation Serif", "fontStyle": "italic", "fontSize": 20, "align": "left", "baseline": "alphabetic", "color": "#111111"},
       "encoding": {"x": {"datum": 0.04, "type": "quantitative"}, "y": {"datum": 3.645, "type": "quantitative"}}},
      {"data": {"values": [{}]}, "mark": {"type": "text", "text": "=", "font": "Liberation Serif", "fontSize": 28, "align": "left", "baseline": "alphabetic", "color": "#111111"},
       "encoding": {"x": {"datum": 0.477, "type": "quantitative"}, "y": {"datum": 3.72, "type": "quantitative"}}},
      {"data": {"values": [{}]}, "mark": {"type": "text", "text": "0", "font": "Liberation Serif", "fontSize": 29, "align": "left", "baseline": "alphabetic", "color": "#111111"},
       "encoding": {"x": {"datum": 1.107, "type": "quantitative"}, "y": {"datum": 3.72, "type": "quantitative"}}},
      {"data": {"values": [{}]}, "mark": {"type": "text", "text": "Hz", "font": "Liberation Serif", "fontSize": 29, "align": "left", "baseline": "alphabetic", "color": "#111111"},
       "encoding": {"x": {"datum": 1.56, "type": "quantitative"}, "y": {"datum": 3.72, "type": "quantitative"}}},
      {"data": {"values": [{}]}, "mark": {"type": "text", "text": "f", "font": "Liberation Serif", "fontStyle": "italic", "fontSize": 28, "align": "left", "baseline": "alphabetic", "color": "#111111"},
       "encoding": {"x": {"datum": 4.275, "type": "quantitative"}, "y": {"datum": 3.855, "type": "quantitative"}}},
      {"data": {"values": [{}]}, "mark": {"type": "text", "text": "s", "font": "Liberation Serif", "fontStyle": "italic", "fontSize": 20, "align": "left", "baseline": "alphabetic", "color": "#111111"},
       "encoding": {"x": {"datum": 4.53, "type": "quantitative"}, "y": {"datum": 3.76, "type": "quantitative"}}},
      {"data": {"values": [{}]}, "mark": {"type": "text", "text": "+", "font": "Liberation Serif", "fontSize": 28, "align": "left", "baseline": "alphabetic", "color": "#111111"},
       "encoding": {"x": {"datum": 4.885, "type": "quantitative"}, "y": {"datum": 3.855, "type": "quantitative"}}},
      {"data": {"values": [{}]}, "mark": {"type": "text", "text": "f", "font": "Liberation Serif", "fontStyle": "italic", "fontSize": 28, "align": "left", "baseline": "alphabetic", "color": "#111111"},
       "encoding": {"x": {"datum": 5.363, "type": "quantitative"}, "y": {"datum": 3.855, "type": "quantitative"}}},
      {"data": {"values": [{}]}, "mark": {"type": "text", "text": "r", "font": "Liberation Serif", "fontStyle": "italic", "fontSize": 20, "align": "left", "baseline": "alphabetic", "color": "#111111"},
       "encoding": {"x": {"datum": 5.61, "type": "quantitative"}, "y": {"datum": 3.76, "type": "quantitative"}}},
      {"data": {"values": [{}]}, "mark": {"type": "text", "text": "=", "font": "Liberation Serif", "fontSize": 28, "align": "left", "baseline": "alphabetic", "color": "#111111"},
       "encoding": {"x": {"datum": 5.916, "type": "quantitative"}, "y": {"datum": 3.855, "type": "quantitative"}}},
      {"data": {"values": [{}]}, "mark": {"type": "text", "text": "2", "font": "Liberation Serif", "fontSize": 28, "align": "left", "baseline": "alphabetic", "color": "#111111"},
       "encoding": {"x": {"datum": 6.431, "type": "quantitative"}, "y": {"datum": 3.855, "type": "quantitative"}}},
      {"data": {"values": [{}]}, "mark": {"type": "text", "text": "f", "font": "Liberation Serif", "fontStyle": "italic", "fontSize": 28, "align": "left", "baseline": "alphabetic", "color": "#111111"},
       "encoding": {"x": {"datum": 6.756, "type": "quantitative"}, "y": {"datum": 3.855, "type": "quantitative"}}}
    ]
  }
]
}
